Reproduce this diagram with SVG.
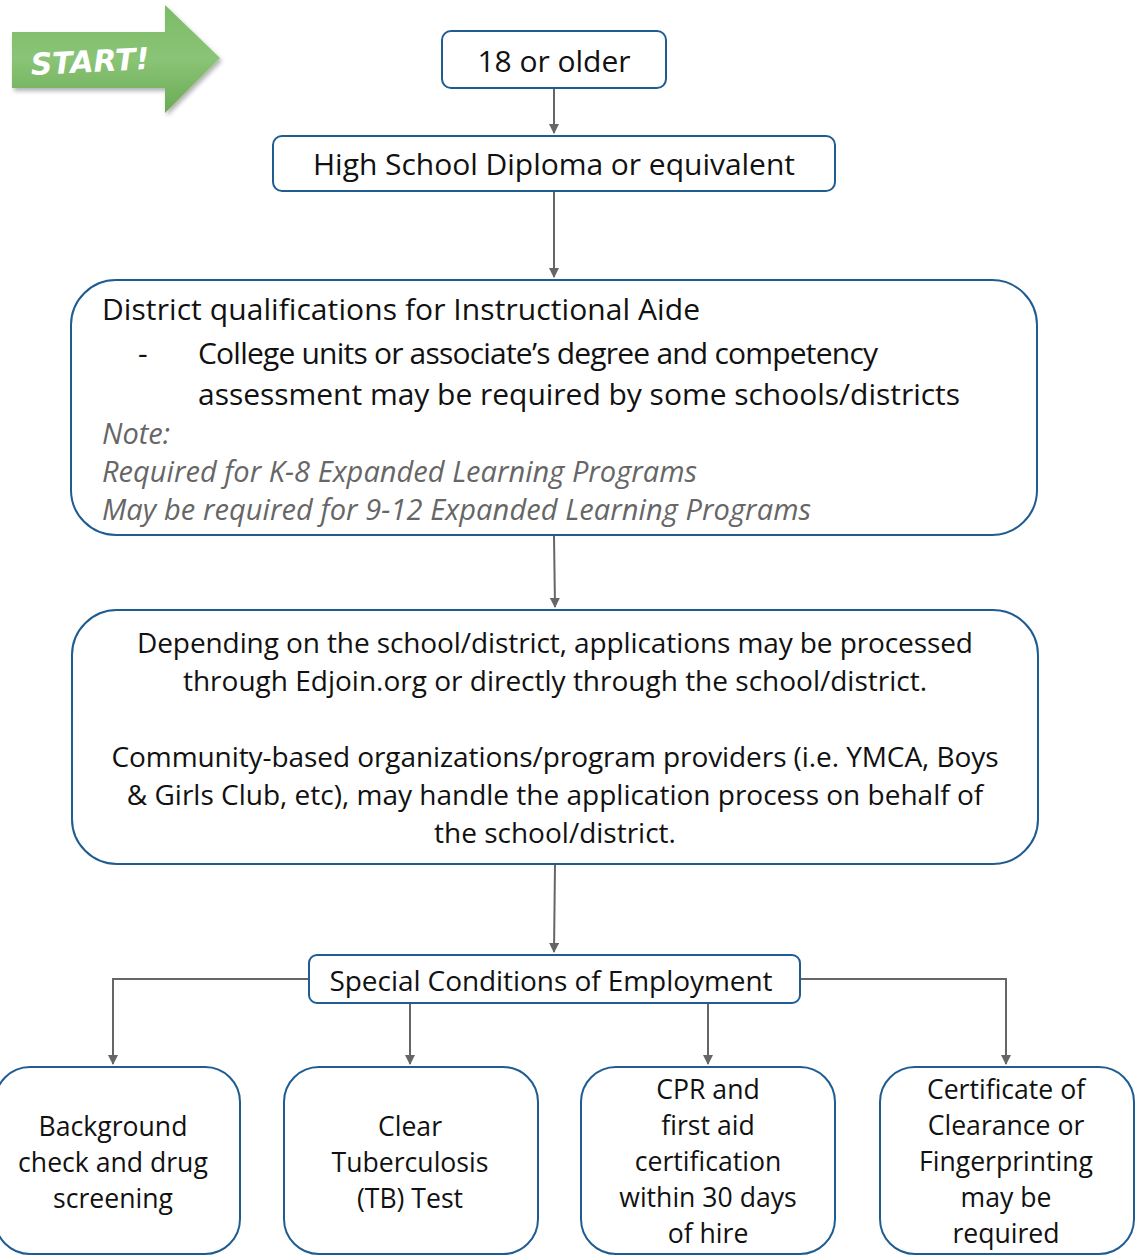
<svg xmlns="http://www.w3.org/2000/svg" width="1136" height="1257" viewBox="0 0 1136 1257">
<defs>
<style>
.box{fill:#fff;stroke:#1e5c92;stroke-width:2}
.t{font-family:"Open Sans","DejaVu Sans",sans-serif;fill:#111}
.c{text-anchor:middle}
.note{font-family:"Open Sans","DejaVu Sans",sans-serif;font-style:italic;fill:#666;font-size:29px}
.conn{fill:none;stroke:#666;stroke-width:2}
</style>
<marker id="ah" viewBox="0 0 10 10" refX="9" refY="5" markerWidth="5" markerHeight="5" orient="auto" markerUnits="strokeWidth">
<path d="M0,0 L10,5 L0,10 z" fill="#666"/>
</marker>
<linearGradient id="g" x1="0" y1="0" x2="0" y2="1">
<stop offset="0" stop-color="#7dbb68"/>
<stop offset="0.5" stop-color="#8ac476"/>
<stop offset="1" stop-color="#6aaa55"/>
</linearGradient>
<filter id="sh" x="-10%" y="-10%" width="130%" height="130%">
<feDropShadow dx="2" dy="3" stdDeviation="2" flood-color="#000" flood-opacity="0.3"/>
</filter>
</defs>
<rect width="1136" height="1257" fill="#fff"/>
<g id="start">
<path d="M12,32 L165,32 L165,5 L220,58 L165,113 L165,88 L12,88 z" fill="url(#g)" filter="url(#sh)"/>
<text x="90" y="72" class="c" font-family="DejaVu Sans" font-weight="bold" font-style="italic" font-size="30" fill="#fff" transform="rotate(-3 90 62)">START!</text>
</g>
<g id="connectors">
<path class="conn" d="M554,88 V133" marker-end="url(#ah)"/>
<path class="conn" d="M554,192 V277" marker-end="url(#ah)"/>
<path class="conn" d="M554,536 L555,607" marker-end="url(#ah)"/>
<path class="conn" d="M555,865 L554,952" marker-end="url(#ah)"/>
<path class="conn" d="M309,979 H113 V1064" marker-end="url(#ah)"/>
<path class="conn" d="M410,1003 V1064" marker-end="url(#ah)"/>
<path class="conn" d="M708,1003 V1064" marker-end="url(#ah)"/>
<path class="conn" d="M800,979 H1006 V1064" marker-end="url(#ah)"/>
</g>
<g id="n1">
<rect class="box" x="442" y="31" width="224" height="57" rx="9"/>
<text class="t c" x="554" y="72" font-size="30" textLength="153">18 or older</text>
</g>
<g id="n2">
<rect class="box" x="273" y="136" width="562" height="55" rx="9"/>
<text class="t c" x="554" y="175" font-size="30" textLength="482">High School Diploma or equivalent</text>
</g>
<g id="n3">
<rect class="box" x="71" y="280" width="966" height="255" rx="45"/>
<text class="t" x="102" y="320" font-size="30" textLength="598">District qualifications for Instructional Aide</text>
<text class="t" x="138" y="364" font-size="30">-</text>
<text class="t" x="198" y="364" font-size="30" textLength="680">College units or associate’s degree and competency</text>
<text class="t" x="198" y="405" font-size="30" textLength="762">assessment may be required by some schools/districts</text>
<text class="note" x="102" y="444">Note:</text>
<text class="note" x="102" y="482" textLength="595">Required for K-8 Expanded Learning Programs</text>
<text class="note" x="102" y="520" textLength="709">May be required for 9-12 Expanded Learning Programs</text>
</g>
<g id="n4">
<rect class="box" x="72" y="610" width="966" height="254" rx="45"/>
<g class="t c" font-size="28">
<text x="555" y="653" textLength="836">Depending on the school/district, applications may be processed</text>
<text x="555" y="691">through Edjoin.org or directly through the school/district.</text>
<text x="555" y="767" textLength="887">Community-based organizations/program providers (i.e. YMCA, Boys</text>
<text x="555" y="805">&amp; Girls Club, etc), may handle the application process on behalf of</text>
<text x="555" y="843">the school/district.</text>
</g>
</g>
<g id="n5">
<rect class="box" x="309" y="955" width="491" height="48" rx="8"/>
<text class="t c" x="551" y="991" font-size="28" textLength="443">Special Conditions of Employment</text>
</g>
<g id="n6">
<rect class="box" x="-5" y="1067" width="245" height="187" rx="35"/>
<g class="t c" font-size="26.6">
<text x="113" y="1136">Background</text>
<text x="113" y="1172">check and drug</text>
<text x="113" y="1208">screening</text>
</g>
</g>
<g id="n7">
<rect class="box" x="284" y="1067" width="254" height="187" rx="35"/>
<g class="t c" font-size="26.6">
<text x="410" y="1136">Clear</text>
<text x="410" y="1172">Tuberculosis</text>
<text x="410" y="1208">(TB) Test</text>
</g>
</g>
<g id="n8">
<rect class="box" x="581" y="1067" width="254" height="187" rx="35"/>
<g class="t c" font-size="26.6">
<text x="708" y="1099">CPR and</text>
<text x="708" y="1135">first aid</text>
<text x="708" y="1171">certification</text>
<text x="708" y="1207">within 30 days</text>
<text x="708" y="1243">of hire</text>
</g>
</g>
<g id="n9">
<rect class="box" x="880" y="1067" width="254" height="187" rx="35"/>
<g class="t c" font-size="26.6">
<text x="1006" y="1099">Certificate of</text>
<text x="1006" y="1135">Clearance or</text>
<text x="1006" y="1171">Fingerprinting</text>
<text x="1006" y="1207">may be</text>
<text x="1006" y="1243">required</text>
</g>
</g>
</svg>
